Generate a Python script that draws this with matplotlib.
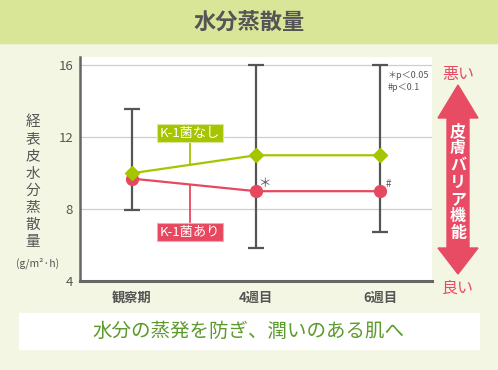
import matplotlib
matplotlib.use('Agg')
import matplotlib.pyplot as plt
import numpy as np
from matplotlib.patches import Rectangle, Polygon

plt.rcParams['font.family'] = ['Noto Sans CJK JP', 'DejaVu Sans']

# データ
x_labels = ['観察期', '4週目', '6週目']
without_k1 = [10.0, 11.0, 11.0]   # K-1菌なし
with_k1 = [9.7, 9.0, 9.0]         # K-1菌あり
err_top = [13.6, 16.0, 16.0]
err_bottom = [7.95, 5.85, 6.7]
y_ticks = [4, 8, 12, 16]

green = '#a6c400'
red = '#e8485f'
gray = '#555555'

W, H = 498, 370
def fx(x):
    return x / W
def fy(y):
    return 1 - y / H

fig = plt.figure(figsize=(4.98, 3.70), dpi=100)
fig.patch.set_facecolor('#f2f6e2')

# ヘッダー
fig.add_artist(Rectangle((0, fy(43)), 1, 43 / H, transform=fig.transFigure,
                         color='#d9e698', zorder=0))
fig.text(0.5, fy(22), '水分蒸散量', ha='center', va='center', fontsize=16,
         color=gray, fontweight='bold')

# グラフ
ax = fig.add_axes([fx(80), fy(281), 352 / W, (281 - 57) / H])
ax.set_facecolor('white')
x = np.arange(len(x_labels))

ax.errorbar(x, with_k1, yerr=[np.array(with_k1) - np.array(err_bottom),
                              np.array(err_top) - np.array(with_k1)],
            fmt='none', ecolor=gray, elinewidth=1.6, capsize=6, capthick=1.6, zorder=2)
ax.plot(x, without_k1, color=green, lw=1.6, marker='D', ms=7, zorder=4)
ax.plot(x, with_k1, color=red, lw=1.6, marker='o', ms=8.5, zorder=3)

# ラベル
lx = 0.47
ax.plot([lx, lx], [11.7, np.interp(lx, x, without_k1)], color=green, lw=1.3, zorder=3)
ax.plot([lx, lx], [7.3, np.interp(lx, x, with_k1)], color=red, lw=1.3, zorder=3)
ax.text(lx, 12.22, 'K-1菌なし', ha='center', va='center', color='white', fontsize=9.5,
        bbox=dict(boxstyle='square,pad=0.2', fc=green, ec='#d8e8a0', lw=0.8), zorder=5)
ax.text(lx, 6.72, 'K-1菌あり', ha='center', va='center', color='white', fontsize=9.5,
        bbox=dict(boxstyle='square,pad=0.2', fc=red, ec='#f4a8b4', lw=0.8), zorder=5)

ax.text(1.07, 9.45, '＊', ha='center', va='center', fontsize=9, color=gray)
ax.text(2.07, 9.4, '#', ha='center', va='center', fontsize=7, color=gray)
ax.text(2.06, 15.1, '＊p＜0.05\n#p＜0.1', ha='left', va='center', fontsize=6.5,
        color=gray, linespacing=1.35)

ax.set_xlim(-0.42, 2.42)
ax.set_ylim(4, 16.47)
ax.set_yticks(y_ticks)
ax.set_xticks(x)
ax.set_xticklabels(x_labels, fontweight='bold')
ax.tick_params(axis='both', length=0, colors=gray, labelsize=9.5)
ax.tick_params(axis='x', pad=7)
ax.tick_params(axis='y', pad=5)
for yv in y_ticks[1:]:
    ax.axhline(yv, color='#cfcfcf', lw=0.9, zorder=1)
for s in ['top', 'right']:
    ax.spines[s].set_visible(False)
ax.spines['left'].set_color('#666666')
ax.spines['left'].set_linewidth(1.8)
ax.spines['bottom'].set_color('#666666')
ax.spines['bottom'].set_linewidth(2.2)

# 縦軸ラベル
ylab = '経表皮水分蒸散量'
for i, ch in enumerate(ylab):
    fig.text(fx(33), fy(122 + i * 17.2), ch, ha='center', va='center',
             fontsize=10.5, color=gray)
fig.text(fx(38), fy(263), '(g/m²·h)', ha='center', va='center', fontsize=7.5,
         color=gray)

# 右側の矢印
pts = [(458, 85), (478, 118), (469, 118), (469, 248), (478, 248), (458, 274),
       (438, 248), (447, 248), (447, 118), (438, 118)]
fig.add_artist(Polygon([(fx(a), fy(b)) for a, b in pts], closed=True,
                       transform=fig.transFigure, color='#e84c64', zorder=2))
for i, ch in enumerate('皮膚バリア機能'):
    fig.text(fx(458), fy(131 + i * 17), ch, ha='center', va='center', fontsize=11.5,
             color='white', fontweight='bold', zorder=3)
fig.text(fx(458), fy(75), '悪い', ha='center', va='center', fontsize=11.5,
         color='#e84c64')
fig.text(fx(458), fy(288), '良い', ha='center', va='center', fontsize=11.5,
         color='#e84c64')

# 下のメッセージ
fig.add_artist(Rectangle((fx(19), fy(349)), 460 / W, 36 / H, transform=fig.transFigure,
                         color='white', zorder=0))
fig.text(fx(248), fy(331), '水分の蒸発を防ぎ、潤いのある肌へ', ha='center', va='center',
         fontsize=14, color='#5c9a2c')

fig.savefig('out.png', dpi=100, facecolor=fig.get_facecolor())
